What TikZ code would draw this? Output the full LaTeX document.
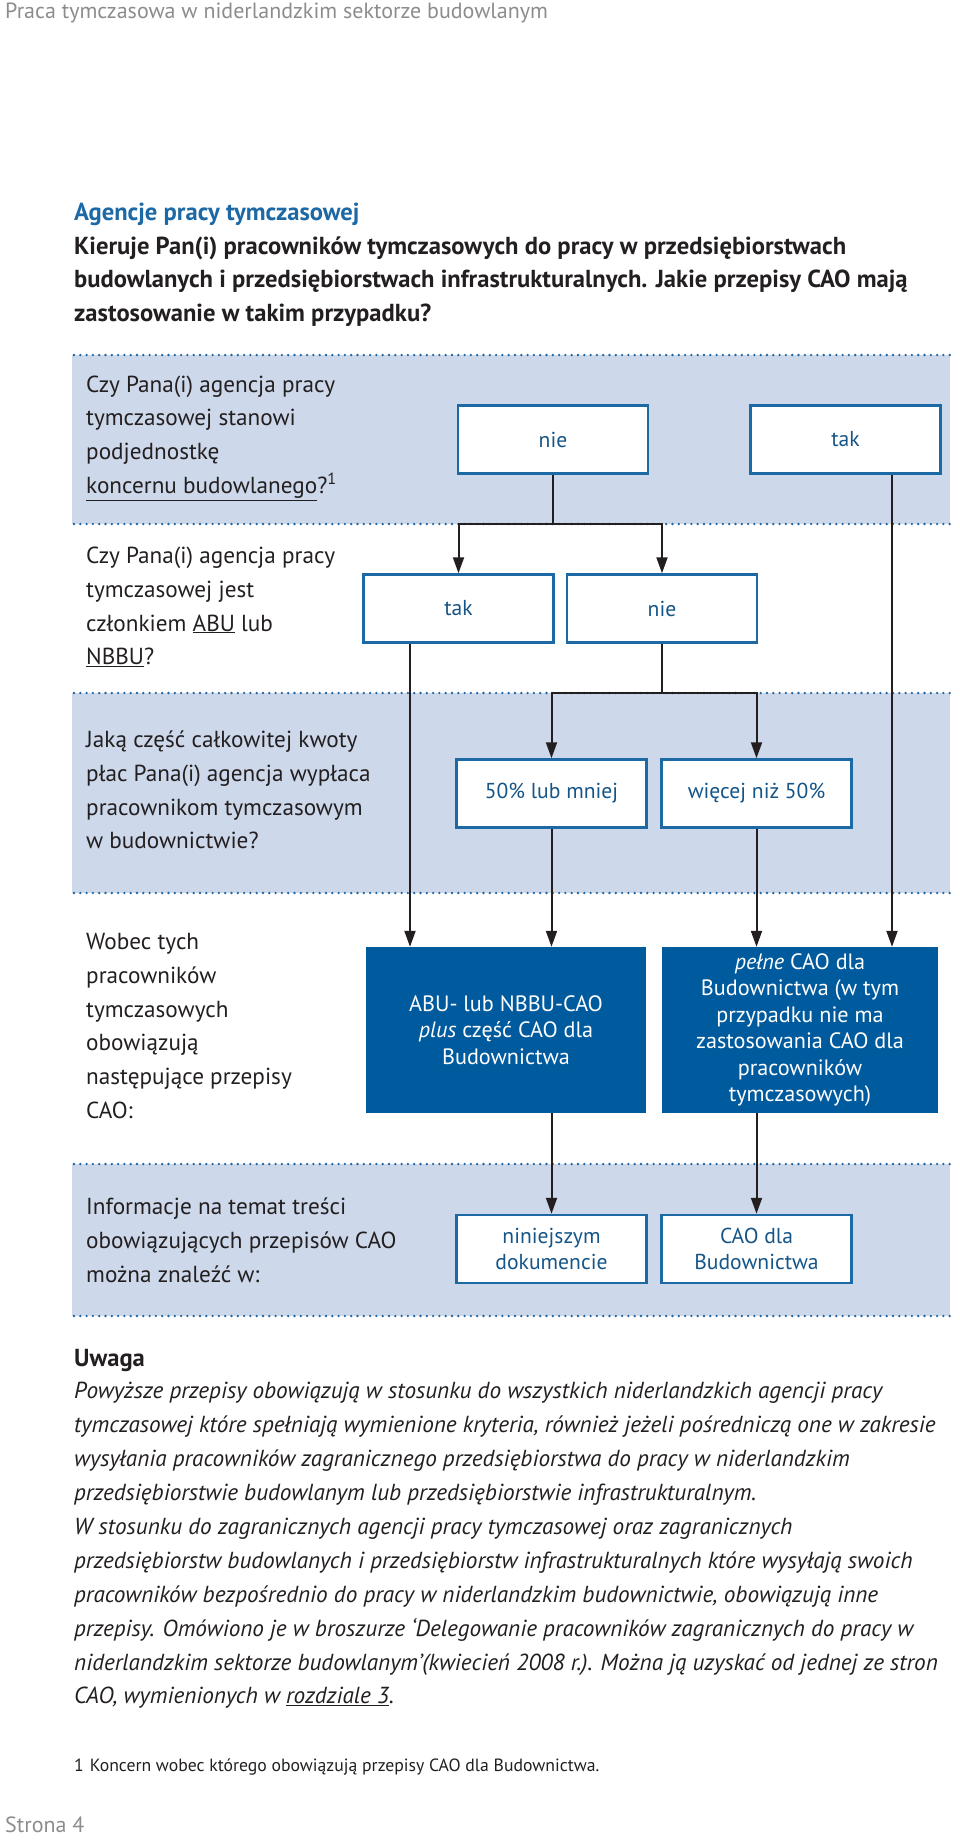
\documentclass[tikz,border=0pt]{standalone}
\usepackage{fontspec}
\setmainfont{PT Sans}
\usetikzlibrary{arrows.meta,calc}
\definecolor{band}{RGB}{205,216,234}
\definecolor{dotblue}{RGB}{31,100,160}
\definecolor{boxblue}{RGB}{28,105,165}
\definecolor{txtblue}{RGB}{22,85,135}
\definecolor{darkbox}{RGB}{0,90,158}
\definecolor{ink}{RGB}{35,31,32}
\definecolor{headgray}{RGB}{140,140,140}
\tikzset{
  ans/.style={draw=boxblue, line width=2.5pt, fill=white, minimum width=190pt, minimum height=68pt,
    inner sep=0pt, text=txtblue, font=\fontsize{21.6}{26}\selectfont, align=center},
  res/.style={fill=darkbox, text=white, minimum height=166pt, inner sep=0pt,
    font=\fontsize{22.2}{26.5}\selectfont, align=center},
  qtext/.style={anchor=west, align=left, text=ink, inner sep=0pt, font=\fontsize{23.2}{33.8}\selectfont},
  conn/.style={draw=ink, line width=2pt},
  arr/.style={conn, -{Triangle[width=11pt,length=16pt]}},
  dotline/.style={draw=dotblue, line width=2.6pt, line cap=round, dash pattern=on 0pt off 6.3pt},
  bandfill/.style={fill=band, draw=none}
}
\begin{document}
\begin{tikzpicture}[x=1pt,y=-1pt]
\useasboundingbox (0,0) rectangle (960,1840);
% bands
\fill[bandfill] (72,355) rectangle (950,524);
\fill[bandfill] (72,693) rectangle (950,893);
\fill[bandfill] (72,1164) rectangle (950,1316);
\foreach \yy in {355,524,693,893,1164,1316}
  \draw[dotline] (74,\yy) -- (952,\yy);
% header
\node[anchor=west, text=headgray, inner sep=0pt, font=\fontsize{22}{22}\selectfont] (hdr) at (5,13)
  {Praca tymczasowa w niderlandzkim sektorze budowlanym};
\node[qtext, font=\bfseries\fontsize{24.6}{33.5}\selectfont] (title) at (74,265)
  {\textcolor{boxblue}{Agencje pracy tymczasowej}\\
   Kieruje Pan(i) pracowników tymczasowych do pracy w przedsiębiorstwach\\
   budowlanych i przedsiębiorstwach infrastrukturalnych. Jakie przepisy CAO mają\\
   zastosowanie w takim przypadku?};
% questions
\node[qtext] (q1) at (86,438) {Czy Pana(i) agencja pracy\\tymczasowej stanowi\\podjednostkę\\\underline{koncernu budowlanego}?\textsuperscript{1}};
\node[qtext] (q2) at (86,607) {Czy Pana(i) agencja pracy\\tymczasowej jest\\członkiem \underline{ABU} lub\\\underline{NBBU}?};
\node[qtext] (q3) at (86,790) {Jaką część całkowitej kwoty\\płac Pana(i) agencja wypłaca\\pracownikom tymczasowym\\w budownictwie?};
\node[qtext] (q4) at (86,1026) {Wobec tych\\pracowników\\tymczasowych\\obowiązują\\następujące przepisy\\CAO:};
\node[qtext] (q5) at (86,1240) {Informacje na temat treści\\obowiązujących przepisów CAO\\można znaleźć w:};
% boxes
\node[ans] (b1nie) at (553,439.5) {nie};
\node[ans] (b1tak) at (845.5,439.5) {tak};
\node[ans] (b2tak) at (458.5,608.5) {tak};
\node[ans] (b2nie) at (662,608.5) {nie};
\node[ans] (b3a) at (551.5,793.5) {50\% lub mniej};
\node[ans] (b3b) at (756.5,793.5) {więcej niż 50\%};
\node[res, minimum width=280pt] (d1) at (506,1030) {ABU- lub NBBU-CAO\\\textit{plus} część CAO dla\\Budownictwa};
\node[res, minimum width=276pt] (d2) at (800,1030) {\textit{pełne} CAO dla\\Budownictwa (w tym\\przypadku nie ma\\zastosowania CAO dla\\pracowników\\tymczasowych)};
\node[ans] (b5a) at (551.5,1249) {niniejszym\\dokumencie};
\node[ans] (b5b) at (756.5,1249) {CAO dla\\Budownictwa};
% connectors
\coordinate (j1) at (553,524);
\coordinate (j2) at (662,693);
\coordinate (xl) at (410,0);
\coordinate (xr) at (892,0);
\draw[conn] (b1nie.south) -- (j1);
\draw[arr] (j1) -| (b2tak.north);
\draw[arr] (j1) -| (b2nie.north);
\draw[arr] (b1tak.south -| xr) -- (d2.north -| xr);
\draw[arr] (b2tak.south -| xl) -- (d1.north -| xl);
\draw[conn] (b2nie.south) -- (j2);
\draw[arr] (j2) -| (b3a.north);
\draw[arr] (j2) -| (b3b.north);
\draw[arr] (b3a.south) -- (b3a.south |- d1.north);
\draw[arr] (b3b.south) -- (b3b.south |- d2.north);
\draw[arr] (b3a.south |- d1.south) -- (b5a.north);
\draw[arr] (b3b.south |- d2.south) -- (b5b.north);
% note
\node[anchor=west, inner sep=0pt, text=ink, font=\bfseries\fontsize{24.6}{24.6}\selectfont] (uw) at (74,1360) {Uwaga};
\node[qtext, font=\itshape\fontsize{23.2}{33.9}\selectfont] (para) at (74,1545.5)
 {Powyższe przepisy obowiązują w stosunku do wszystkich niderlandzkich agencji pracy\\
  tymczasowej które spełniają wymienione kryteria, również jeżeli pośredniczą one w zakresie\\
  wysyłania pracowników zagranicznego przedsiębiorstwa do pracy w niderlandzkim\\
  przedsiębiorstwie budowlanym lub przedsiębiorstwie infrastrukturalnym.\\
  W stosunku do zagranicznych agencji pracy tymczasowej oraz zagranicznych\\
  przedsiębiorstw budowlanych i przedsiębiorstw infrastrukturalnych które wysyłają swoich\\
  pracowników bezpośrednio do pracy w niderlandzkim budownictwie, obowiązują inne\\
  przepisy. Omówiono je w broszurze ‘Delegowanie pracowników zagranicznych do pracy w\\
  niderlandzkim sektorze budowlanym’(kwiecień 2008 r.). Można ją uzyskać od jednej ze stron\\
  CAO, wymienionych w \underline{rozdziale 3}.};
\node[anchor=west, inner sep=0pt, text=ink, font=\fontsize{17.7}{17.7}\selectfont] (fn) at (74,1767)
 {1\hspace{6pt}Koncern wobec którego obowiązują przepisy CAO dla Budownictwa.};
\node[anchor=west, text=headgray, inner sep=0pt, font=\fontsize{22}{22}\selectfont] (pg) at (5,1825) {Strona 4};
\end{tikzpicture}
\end{document}
